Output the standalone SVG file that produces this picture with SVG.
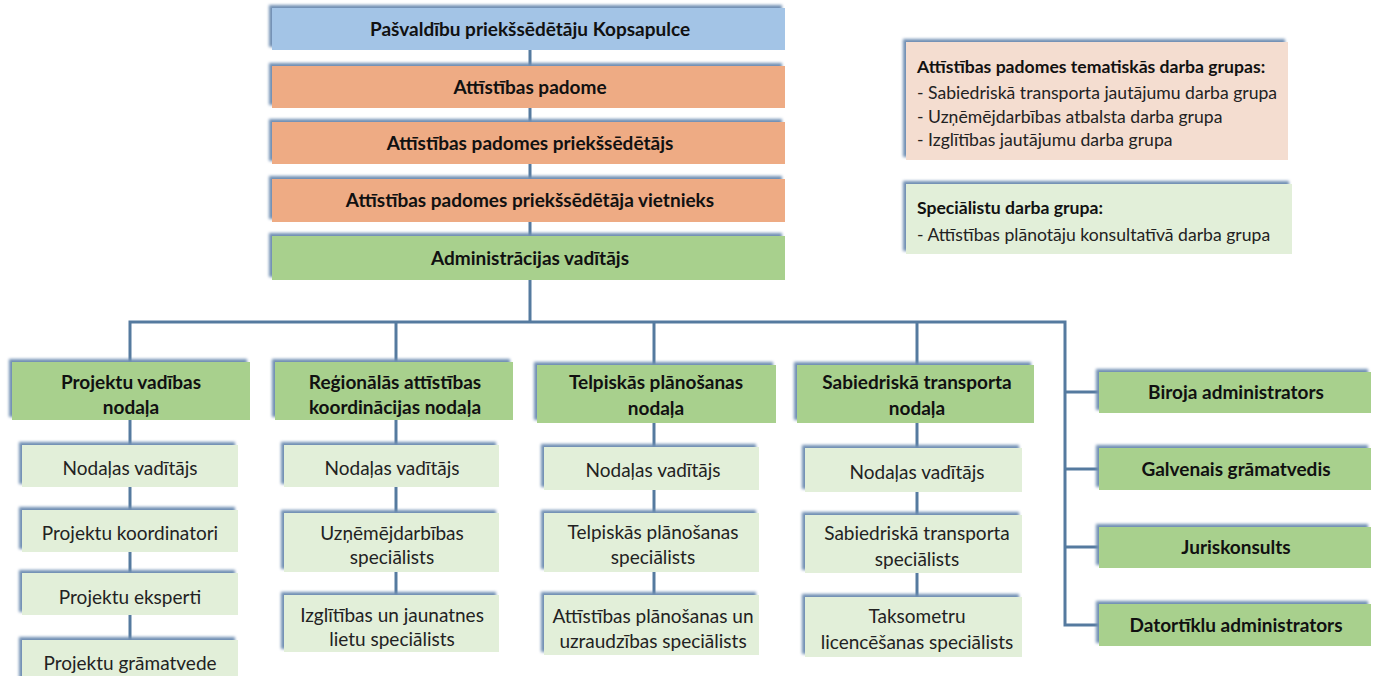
<svg xmlns="http://www.w3.org/2000/svg" width="1379" height="676" viewBox="0 0 1379 676">
<defs>
<filter id="sh" x="-5%" y="-20%" width="110%" height="140%">
<feFlood flood-color="#6f8fb3" result="c"/>
<feComposite in="c" in2="SourceAlpha" operator="in" result="s"/>
<feOffset dx="-3" dy="-3" result="o"/>
<feGaussianBlur in="o" stdDeviation="1.6" result="b"/>
<feGaussianBlur in="SourceGraphic" stdDeviation="0.6" result="g"/>
<feMerge><feMergeNode in="b"/><feMergeNode in="g"/></feMerge>
</filter>
</defs>
<style>
.blue{fill:#a3c4e6}
.orange{fill:#eeab84}
.green{fill:#a8d08d}
.lgreen{fill:#e2efd9}
.lorange{fill:#f4ddd0}
.box{filter:url(#sh)}
.b{font-family:Lato,"Open Sans",sans-serif;font-weight:bold;font-size:19px;fill:#111;text-anchor:middle}
.r{font-family:Lato,"Open Sans",sans-serif;font-size:19px;fill:#222;text-anchor:middle}
.lb{font-family:Lato,"Open Sans",sans-serif;font-weight:bold;font-size:17.6px;fill:#111}
.lr{font-family:Lato,"Open Sans",sans-serif;font-size:17.6px;fill:#222}
.ln{stroke:#557a9f;stroke-width:3;fill:none}
</style>
<rect width="1379" height="676" fill="#fff"/>
<g id="connectors">
<line class="ln" x1="530" y1="50" x2="530" y2="322"/>
<polyline class="ln" points="130,365 130,322 1065,322 1065,625 1099,625"/>
<line class="ln" x1="396" y1="322" x2="396" y2="365"/>
<line class="ln" x1="654" y1="322" x2="654" y2="365"/>
<line class="ln" x1="917" y1="322" x2="917" y2="365"/>
<line class="ln" x1="1065" y1="392" x2="1099" y2="392"/>
<line class="ln" x1="1065" y1="469" x2="1099" y2="469"/>
<line class="ln" x1="1065" y1="547" x2="1099" y2="547"/>
<line class="ln" x1="130" y1="420" x2="130" y2="645"/>
<line class="ln" x1="396" y1="420" x2="396" y2="597"/>
<line class="ln" x1="654" y1="423" x2="654" y2="597"/>
<line class="ln" x1="917" y1="423" x2="917" y2="599"/>
</g>
<g id="kopsapulce"><rect class="box blue" x="272" y="8" width="513" height="42"/><text class="b" x="530" y="36">Pašvaldību priekšsēdētāju Kopsapulce</text></g>
<g id="padome"><rect class="box orange" x="272" y="66" width="513" height="42"/><text class="b" x="530" y="94">Attīstības padome</text></g>
<g id="priekssedetajs"><rect class="box orange" x="272" y="122" width="513" height="42"/><text class="b" x="530" y="150">Attīstības padomes priekšsēdētājs</text></g>
<g id="vietnieks"><rect class="box orange" x="272" y="179" width="513" height="43"/><text class="b" x="530" y="207">Attīstības padomes priekšsēdētāja vietnieks</text></g>
<g id="admin"><rect class="box green" x="272" y="236" width="513" height="44"/><text class="b" x="530" y="265">Administrācijas vadītājs</text></g>

<g id="tematiskas"><rect class="box lorange" x="906" y="42" width="382" height="118"/>
<text class="lb" x="917" y="73">Attīstības padomes tematiskās darba grupas:</text>
<text class="lr" x="917" y="99">- Sabiedriskā transporta jautājumu darba grupa</text>
<text class="lr" x="917" y="123">- Uzņēmējdarbības atbalsta darba grupa</text>
<text class="lr" x="917" y="146">- Izglītības jautājumu darba grupa</text></g>
<g id="specialisti"><rect class="box lgreen" x="906" y="184" width="386" height="70"/>
<text class="lb" x="917" y="214">Speciālistu darba grupa:</text>
<text class="lr" x="917" y="241">- Attīstības plānotāju konsultatīvā darba grupa</text></g>

<g id="projektu-nodala"><rect class="box green" x="12" y="362" width="238" height="58"/><text class="b" x="131" y="389">Projektu vadības</text><text class="b" x="131" y="414">nodaļa</text></g>
<g id="p1"><rect class="box lgreen" x="22" y="445" width="216" height="42"/><text class="r" x="130" y="475">Nodaļas vadītājs</text></g>
<g id="p2"><rect class="box lgreen" x="22" y="510" width="216" height="42"/><text class="r" x="130" y="540">Projektu koordinatori</text></g>
<g id="p3"><rect class="box lgreen" x="22" y="573" width="216" height="42"/><text class="r" x="130" y="604">Projektu eksperti</text></g>
<g id="p4"><rect class="box lgreen" x="22" y="640" width="216" height="42"/><text class="r" x="130" y="670">Projektu grāmatvede</text></g>

<g id="regionalas-nodala"><rect class="box green" x="275" y="362" width="238" height="58"/><text class="b" x="395" y="389">Reģionālās attīstības</text><text class="b" x="395" y="414">koordinācijas nodaļa</text></g>
<g id="r1"><rect class="box lgreen" x="284" y="445" width="215" height="42"/><text class="r" x="392" y="475">Nodaļas vadītājs</text></g>
<g id="r2"><rect class="box lgreen" x="284" y="513" width="215" height="59"/><text class="r" x="392" y="540">Uzņēmējdarbības</text><text class="r" x="392" y="564">speciālists</text></g>
<g id="r3"><rect class="box lgreen" x="284" y="595" width="215" height="57"/><text class="r" x="392" y="622">Izglītības un jaunatnes</text><text class="r" x="392" y="646">lietu speciālists</text></g>

<g id="telpiskas-nodala"><rect class="box green" x="537" y="365" width="239" height="58"/><text class="b" x="656" y="389">Telpiskās plānošanas</text><text class="b" x="656" y="415">nodaļa</text></g>
<g id="t1"><rect class="box lgreen" x="544" y="447" width="215" height="43"/><text class="r" x="653" y="477">Nodaļas vadītājs</text></g>
<g id="t2"><rect class="box lgreen" x="544" y="513" width="215" height="59"/><text class="r" x="653" y="539">Telpiskās plānošanas</text><text class="r" x="653" y="564">speciālists</text></g>
<g id="t3"><rect class="box lgreen" x="544" y="595" width="215" height="60"/><text class="r" x="653" y="623">Attīstības plānošanas un</text><text class="r" x="653" y="648">uzraudzības speciālists</text></g>

<g id="transporta-nodala"><rect class="box green" x="797" y="365" width="237" height="58"/><text class="b" x="917" y="389">Sabiedriskā transporta</text><text class="b" x="917" y="415">nodaļa</text></g>
<g id="s1"><rect class="box lgreen" x="805" y="448" width="217" height="44"/><text class="r" x="917" y="479">Nodaļas vadītājs</text></g>
<g id="s2"><rect class="box lgreen" x="805" y="515" width="217" height="58"/><text class="r" x="917" y="540">Sabiedriskā transporta</text><text class="r" x="917" y="566">speciālists</text></g>
<g id="s3"><rect class="box lgreen" x="805" y="597" width="217" height="60"/><text class="r" x="917" y="623">Taksometru</text><text class="r" x="917" y="649">licencēšanas speciālists</text></g>

<g id="biroja"><rect class="box green" x="1099" y="372" width="272" height="41"/><text class="b" x="1236" y="399">Biroja administrators</text></g>
<g id="gramatvedis"><rect class="box green" x="1099" y="448" width="272" height="42"/><text class="b" x="1236" y="476">Galvenais grāmatvedis</text></g>
<g id="juriskonsults"><rect class="box green" x="1099" y="527" width="272" height="41"/><text class="b" x="1236" y="554">Juriskonsults</text></g>
<g id="datortiklu"><rect class="box green" x="1099" y="604" width="272" height="42"/><text class="b" x="1236" y="632">Datortīklu administrators</text></g>
</svg>
